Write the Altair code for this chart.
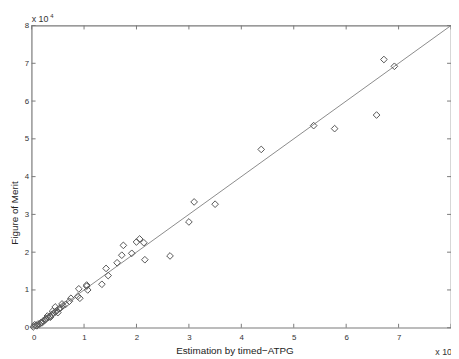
import altair as alt
import pandas as pd

# Values in units of 10^4
est = [0.03, 0.08, 0.12, 0.15, 0.18, 0.22, 0.25, 0.28, 0.32, 0.35, 0.38, 0.42, 0.45,
       0.48, 0.52, 0.45, 0.55, 0.60, 0.65, 0.72, 0.75,
       0.06, 0.10, 0.20, 0.27, 0.30, 0.36, 0.40, 0.50, 0.58,
       0.88, 0.90, 0.92, 1.05, 1.07, 1.05, 1.34, 1.42, 1.46, 1.63, 1.72, 1.75, 1.91,
       2.00, 2.06, 2.14, 2.16, 2.64, 3.00, 3.10, 3.50, 4.38, 5.38, 5.78, 6.58, 6.72, 6.92]
fom = [0.02, 0.06, 0.10, 0.09, 0.14, 0.18, 0.20, 0.25, 0.27, 0.30, 0.35, 0.38, 0.42,
       0.45, 0.50, 0.55, 0.52, 0.58, 0.62, 0.70, 0.78,
       0.08, 0.05, 0.13, 0.22, 0.31, 0.28, 0.44, 0.40, 0.63,
       0.83, 1.03, 0.78, 1.10, 1.00, 1.13, 1.15, 1.57, 1.38, 1.72, 1.92, 2.18, 1.97,
       2.27, 2.35, 2.25, 1.80, 1.90, 2.80, 3.33, 3.27, 4.72, 5.35, 5.27, 5.63, 7.10, 6.92]
line_x = [0, 8]
line_y = [0, 8]
x_ticks = [0, 1, 2, 3, 4, 5, 6, 7, 8]
y_ticks = [0, 1, 2, 3, 4, 5, 6, 7, 8]
x_labels = [0, 1, 2, 3, 4, 5, 6, 7]

W, H = 426, 307
FONT = "Liberation Sans"
AX = "#7a7a7a"
TK = 4

df = pd.DataFrame({"est": est, "fom": fom})
df_line = pd.DataFrame({"x": line_x, "y": line_y})
df_xt = pd.DataFrame({"t": x_ticks})
df_yt = pd.DataFrame({"t": y_ticks})

xs = alt.Scale(domain=[0, 8], nice=False, zero=False)
ys = alt.Scale(domain=[0, 8], nice=False, zero=False)

xaxis = alt.Axis(
    values=x_labels, title="Estimation by timed\u2212ATPG", ticks=False, domain=False,
    grid=False, labelPadding=6, titlePadding=4, titleX=206)
yaxis = alt.Axis(
    values=y_ticks, title="Figure of Merit", ticks=False, domain=False, grid=False,
    labelPadding=3, titleX=-17, titleY=190, titleAngle=-90,
    titleAlign="center", titleBaseline="middle")

pts = alt.Chart(df).mark_point(
    shape="diamond", filled=False, size=46, color="#555555", strokeWidth=1, opacity=1
).encode(
    x=alt.X("est:Q", scale=xs, axis=xaxis),
    y=alt.Y("fom:Q", scale=ys, axis=yaxis),
)

line = alt.Chart(df_line).mark_line(color="#8a8a8a", strokeWidth=1).encode(
    x=alt.X("x:Q", scale=xs, axis=xaxis),
    y=alt.Y("y:Q", scale=ys, axis=yaxis),
)

tick_bottom = alt.Chart(df_xt).mark_rule(color=AX).encode(
    x=alt.X("t:Q", scale=xs, axis=xaxis), y=alt.value(H), y2=alt.value(H - TK))
tick_top = alt.Chart(df_xt).mark_rule(color=AX).encode(
    x=alt.X("t:Q", scale=xs, axis=xaxis), y=alt.value(0), y2=alt.value(TK))
tick_left = alt.Chart(df_yt).mark_rule(color=AX).encode(
    y=alt.Y("t:Q", scale=ys, axis=yaxis), x=alt.value(0), x2=alt.value(TK))
tick_right = alt.Chart(df_yt).mark_rule(color=AX).encode(
    y=alt.Y("t:Q", scale=ys, axis=yaxis), x=alt.value(W), x2=alt.value(W - TK))

exp_top = alt.Chart(pd.DataFrame({"s": ["x 10"]})).mark_text(
    font=FONT, fontSize=9, align="left", baseline="alphabetic", color="#333333"
).encode(text="s:N", x=alt.value(0), y=alt.value(-4))
exp_top_sup = alt.Chart(pd.DataFrame({"s": ["4"]})).mark_text(
    font=FONT, fontSize=6, align="left", baseline="alphabetic", color="#333333"
).encode(text="s:N", x=alt.value(19), y=alt.value(-8))
exp_bot = alt.Chart(pd.DataFrame({"s": ["x 10"]})).mark_text(
    font=FONT, fontSize=9, align="left", baseline="alphabetic", color="#333333"
).encode(text="s:N", x=alt.value(W - 16), y=alt.value(H + 28))

chart = alt.layer(
    line, pts, tick_bottom, tick_top, tick_left, tick_right, exp_top, exp_top_sup, exp_bot
).properties(
    width=W, height=H,
    autosize=alt.AutoSizeParams(type="none"),
    padding={"left": 24, "top": 15, "right": 0, "bottom": 30},
).configure_view(
    stroke=AX, strokeWidth=1.2
).configure_axis(
    labelFont=FONT, titleFont=FONT, labelFontSize=8, titleFontSize=10,
    labelColor="#333333", titleColor="#222222", titleFontWeight="normal"
)

chart.save("out.html", embed_options={"renderer": "svg", "actions": False})
